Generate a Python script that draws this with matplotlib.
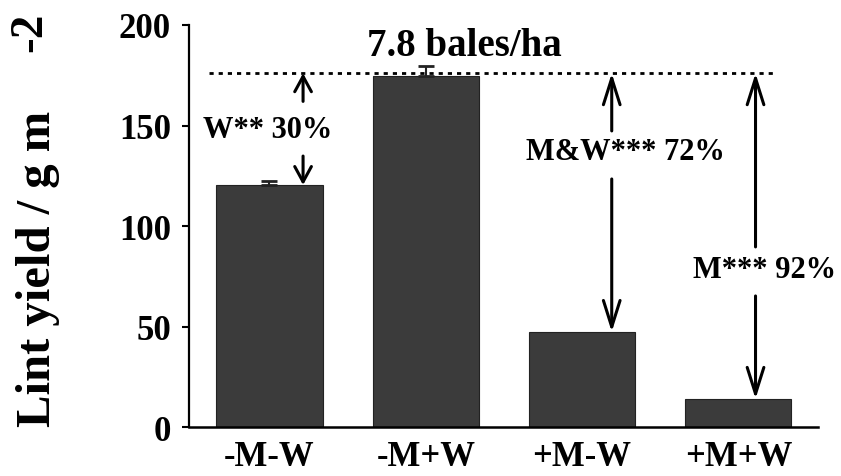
import matplotlib
matplotlib.use("Agg")
import matplotlib.pyplot as plt

# ==========================
# data
# ==========================

treatments = ["-M-W", "-M+W", "+M-W", "+M+W"]
lint_yield = [120.4, 174.6, 47.3, 14.0]
yield_err = [2.0, 5.0, 0.0, 0.0]

ref_yield = 176.0
ref_label = "7.8 bales/ha"

# (label, bar index the reduction refers to)
reductions = ["W** 30%", "M&W*** 72%", "M*** 92%"]
reduction_bars = [0, 2, 3]

y_ticks = [0, 50, 100, 150, 200]

# ==========================
# figure
# ==========================

plt.rcParams["font.family"] = ["Liberation Serif", "DejaVu Serif"]
plt.rcParams["font.weight"] = "bold"

fig = plt.figure(figsize=(8.41, 4.77), dpi=100)
ax = fig.add_axes([0.2247, 0.1027, 0.748, 0.8428])

x = list(range(len(treatments)))

ax.bar(x, lint_yield, width=0.68, color="#3b3b3b", edgecolor="#222222",
       linewidth=0.8, zorder=2)

# upper error caps only where an error was drawn
ex = [xi for xi, e in zip(x, yield_err) if e > 0]
ey = [v for v, e in zip(lint_yield, yield_err) if e > 0]
ee = [e for e in yield_err if e > 0]
ax.errorbar(ex, ey, yerr=[[0] * len(ee), ee], fmt="none",
            ecolor="#222222", elinewidth=1.5, capsize=6, capthick=2, zorder=3)

# reference line (yield of the -M+W plot)
ax.plot([-0.39, 3.24], [ref_yield, ref_yield], color="black", lw=2,
        linestyle=(0, (1.5, 1.8)), zorder=4)
ax.text(1.25, 190, ref_label, ha="center", va="center", fontsize=28,
        fontweight="bold")

# arrows and reduction labels
arrow_dx = [0.215, 0.19, 0.11]
text_pos = [(-0.01, 148), (2.276, 137), (3.17, 78.6)]
up_start = [162, 147.3, 89.6]
down_start = [134.8, 123.4, 65.2]
head_len = [1.1, 1.9, 1.9]

for lab, b, dx, (tx, ty), us, ds, hl in zip(reductions, reduction_bars, arrow_dx,
                                            text_pos, up_start, down_start, head_len):
    ax_x = x[b] + dx
    style = f"->, head_length={hl}, head_width=0.6"
    ax.annotate("", xy=(ax_x, ref_yield), xytext=(ax_x, us),
                arrowprops=dict(arrowstyle=style, lw=2.2, color="black",
                                mutation_scale=10, shrinkA=0, shrinkB=0),
                zorder=5)
    ax.annotate("", xy=(ax_x, lint_yield[b]), xytext=(ax_x, ds),
                arrowprops=dict(arrowstyle=style, lw=2.2, color="black",
                                mutation_scale=10, shrinkA=0, shrinkB=0),
                zorder=5)
    ax.text(tx, ty, lab, ha="center", va="center", fontsize=22,
            fontweight="bold")

# axes
ax.set_xlim(-0.515, 3.51)
ax.set_ylim(0, 200)
ax.set_yticks(y_ticks)
ax.set_xticks(x)
ax.set_xticklabels(treatments)

for s in ["top", "right"]:
    ax.spines[s].set_visible(False)
ax.spines["left"].set_linewidth(1.6)
ax.spines["bottom"].set_linewidth(1.8)

ax.tick_params(axis="y", length=5, width=1.5, pad=8, labelsize=25)
ax.tick_params(axis="x", length=0, pad=9, labelsize=25)
for t in ax.get_xticklabels() + ax.get_yticklabels():
    t.set_fontweight("bold")

fig.text(38 / 841, 1 - 269 / 477, "Lint yield / g m", rotation=90,
         ha="center", va="center", fontsize=35, fontweight="bold")
fig.text(30 / 841, 1 - 32 / 477, "-2", rotation=90,
         ha="center", va="center", fontsize=34, fontweight="bold")

fig.savefig("out.png", dpi=100)
